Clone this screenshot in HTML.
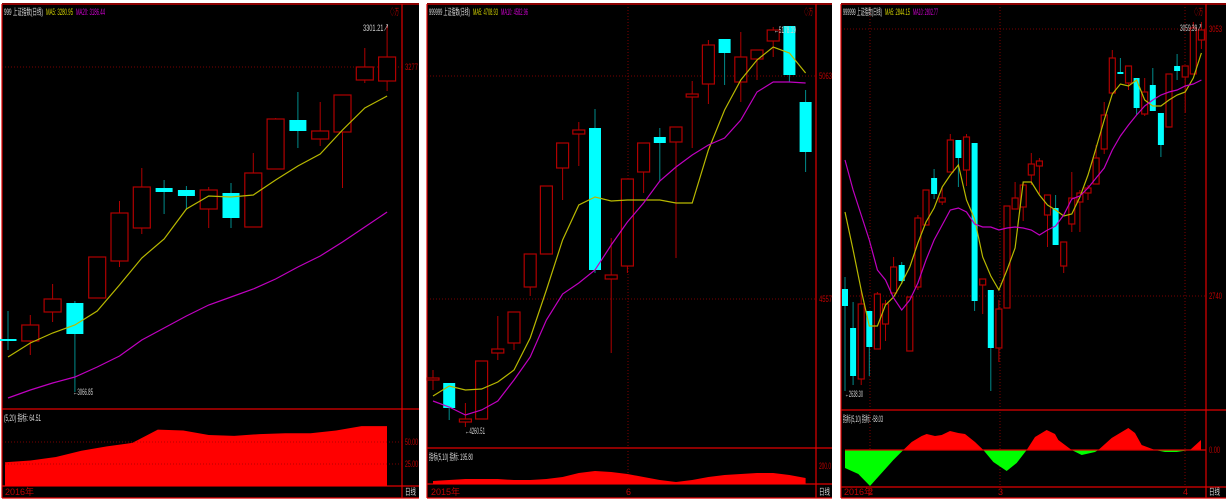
<!DOCTYPE html>
<html><head><meta charset="utf-8">
<style>
html,body{margin:0;padding:0;background:#fff;width:1226px;height:504px;overflow:hidden}
svg{display:block}
text{font-family:"Liberation Sans","Noto Sans CJK SC",sans-serif;font-size:9px}
</style></head>
<body>
<svg id="chart" width="1226" height="504" viewBox="0 0 1226 504"></svg>
<script>
// ===== Panel 1 data (price index units) =====
const p1Open  = [661,659,688,697,702,739,772,812,810,791,807,773,831,880,861,868,920,919];
const p1Close = [660,675,701,666,743,787,813,808,804,810,782,827,881,869,869,905,933,943];
const p1High  = [689,685,716,699,743,799,832,820,814,813,817,847,882,908,898,905,952,975];
const p1Low   = [650,645,678,608,702,733,766,786,790,772,772,773,831,852,854,812,917,909];
const p1MA5   = [643,657,667,675,689,715,742,761,791,804,803,805,820,834,846,870,892,904];
const p1MA20  = [602,610,617,623,633,644,660,672,684,695,703,711,721,733,744,758,773,788];
const p1Ind   = [27,29,33,40,45,49,64,63,58,57,59,60,60,63,68,68];
// ===== Panel 2 data =====
const p2Open  = [620,617,578,581,647,657,713,746,832,866,872,721,734,828,863,858,903,916,961,918,941,959,974,898];
const p2Close = [622,592,581,639,651,688,746,814,857,870,730,725,821,857,857,873,906,955,947,943,950,970,925,848];
const p2High  = [630,617,597,639,684,688,746,814,857,878,891,762,821,857,872,873,919,960,961,968,950,973,974,910];
const p2Low   = [610,580,573,581,640,650,704,746,800,834,727,647,727,807,819,742,852,896,915,898,920,943,918,828];
const p2MA5   = [604,614,610,611,618,630,662,710,760,795,803,799,800,800,800,797,797,850,890,920,940,953,947,927];
const p2MA10  = [599,593,585,590,599,620,643,680,706,717,730,755,778,797,819,833,845,855,862,880,908,918,918,917];
const p2Ind   = [3,4,5,5,5,4,4,5,7,11,13,12,10,7,4,2,4,7,9,10,11,11,9,6];
// ===== Panel 3 data =====
const p3Open  = [711,672,621,689,651,676,707,735,649,713,775,822,798,828,860,830,857,715,710,652,692,791,793,825,834,785,792,734,776,798,807,816,851,907,928,917,922,886,915,887,873,934,923,926,960];
const p3Close = [694,624,696,653,706,696,733,719,703,782,810,806,802,860,842,863,699,721,652,691,794,802,815,836,839,805,755,758,802,807,812,842,885,942,926,934,892,908,889,855,926,929,934,972,970];
const p3High  = [723,698,710,689,708,700,743,738,703,785,810,831,813,866,860,866,857,721,710,700,794,818,818,847,842,805,805,758,828,810,815,855,898,950,942,934,922,922,932,887,926,946,934,978,978];
const p3Low   = [609,615,615,624,651,659,707,716,649,710,775,801,795,828,813,814,689,686,609,638,692,791,779,815,806,753,755,727,768,768,800,816,846,905,926,910,885,884,889,843,873,920,887,926,951];
const p3MA5   = [788,750,710,674,674,695,703,717,733,757,778,792,813,825,835,800,781,743,724,710,730,752,818,818,805,795,790,784,786,803,825,852,880,906,916,914,920,900,894,894,900,905,908,922,947];
const p3MA10  = [840,810,785,760,730,720,702,690,700,717,740,760,775,790,792,788,776,773,773,770,772,773,772,770,765,770,774,785,801,804,812,822,832,850,864,875,885,894,900,905,908,910,914,916,920];
const p3Ind   = [-18,-24,-36,-23,-10,0,8,14,16,14,15,19,17,16,8,0,-12,-21,-13,0,13,20,16,10,0,-5,-2,0,12,22,17,5,0,-2,-2,0,10];
const p3IndX  = [30,70,105,140,175,205,230,260,275,300,320,345,370,390,420,445,475,515,545,575,600,635,660,670,710,740,780,790,830,880,900,920,960,990,1025,1065,1098];

const svg = document.getElementById('chart');
const NS = 'http://www.w3.org/2000/svg';
function mk(tag, attrs, parent){
  const e = document.createElementNS(NS, tag);
  for (const k in attrs) e.setAttribute(k, attrs[k]);
  (parent||svg).appendChild(e);
  return e;
}
const RED='#e00000', DRED='#b00000', CYAN='#00ffff';

function panel(cfg){
  const g = mk('g', {});
  
  
  const bg = mk('rect', {x:cfg.x0, y:3, width:cfg.x1-cfg.x0, height:495, fill:'#000'}, g);
  
  
  const lines = [[cfg.x0,4,cfg.x1,4],[cfg.x0,cfg.sep,cfg.x1,cfg.sep],[cfg.x0,cfg.indBottom,cfg.x1,cfg.indBottom],[cfg.axisX,4,cfg.axisX,498],[cfg.x0,4,cfg.x0,498],[cfg.x0,498,cfg.x1,498]];
  lines.forEach(l=>{
    const ln = mk('line',{x1:l[0],y1:l[1],x2:l[2],y2:l[3],stroke:RED,'stroke-width':1.2},g);
    
    
  });
  (cfg.hgrid||[]).forEach(h=>{
    const ln = mk('line',{x1:cfg.x0,y1:cfg.y(h.v),x2:cfg.axisX,y2:cfg.y(h.v),stroke:'#a00000','stroke-width':0.8,'stroke-dasharray':'1,2'},g);
    
    
    const t = mk('text',{x:cfg.axisX+3,y:cfg.y(h.v)+3,fill:'#c00000','font-size':8,textLength:13,lengthAdjust:'spacingAndGlyphs'},g);
    t.textContent = h.label;
    
    
  });
  (cfg.vgrid||[]).forEach(vx=>{
    const ln = mk('line',{x1:vx,y1:4,x2:vx,y2:cfg.indBottom,stroke:'#a00000','stroke-width':0.8,'stroke-dasharray':'1,2'},g);
    
    
  });
  const n = cfg.open.length;
  for (let i=0;i<n;i++){
    const cx = cfg.cx(i);
    const up = cfg.close[i] >= cfg.open[i];
    const col = up ? DRED : CYAN;
    const wk = mk('line',{x1:cx,y1:cfg.y(cfg.high[i]),x2:cx,y2:cfg.y(cfg.low[i]),stroke:up?DRED:'#008b8b','stroke-width':1},g);
    
    
    const top = cfg.y(Math.max(cfg.open[i],cfg.close[i]));
    const bot = cfg.y(Math.min(cfg.open[i],cfg.close[i]));
    const b = mk('rect',{x:cx-cfg.w/2,y:top,width:cfg.w,height:Math.max(bot-top,2),fill:up?'#000':CYAN,stroke:col,'stroke-width':up?1.2:0},g);
    
    
  }
  cfg.mas.forEach(m=>{
    const pts = m.data.map((v,i)=>cfg.cx(i)+','+cfg.y(v)).join(' ');
    const pl = mk('polyline',{points:pts,fill:'none',stroke:m.color,'stroke-width':1.2},g);
    
    
  });
  let hx = cfg.x0+2;
  cfg.header.forEach(h=>{
    const t = mk('text',{x:hx,y:15,fill:h.c,'font-size':8,textLength:h.w-3,lengthAdjust:'spacingAndGlyphs'},g);
    t.textContent = h.t;
    
    
    hx += h.w;
  });
  const ah = mk('text',{x:cfg.axisX-12,y:15,fill:'#c00000','font-size':8,textLength:9,lengthAdjust:'spacingAndGlyphs'},g);
  ah.textContent='◇万';
  
  
  const ih = mk('text',{x:cfg.x0+2,y:cfg.sep+12,fill:'#ddd','font-size':8,textLength:cfg.indLen,lengthAdjust:'spacingAndGlyphs'},g);
  ih.textContent = cfg.indLabel;
  
  
  cfg.dateLabels.forEach(d=>{
    const t = mk('text',{x:d.x,y:495,fill:'#c00000','font-size':8},g);
    t.textContent = d.t;
    
    
  });
  const dl = mk('text',{x:cfg.axisX+3,y:495,fill:'#ddd','font-size':8,textLength:11,lengthAdjust:'spacingAndGlyphs'},g);
  dl.textContent='日线';
  
  
  return g;
}

// Panel 1
const y1 = v => 1000 - v;
const cx1 = i => 8 + i*22.3;
const g1 = panel({name:'chart-panel-1',x0:2,x1:419,axisX:402,sep:409,indBottom:486,y:y1,cx:cx1,w:17,
  open:p1Open,close:p1Close,high:p1High,low:p1Low,
  mas:[{data:p1MA5,color:'#b8b800',name:'ma5-line'},{data:p1MA20,color:'#c000c0',name:'ma20-line'}],
  hgrid:[{v:933,label:'3277'}],
  header:[{t:'999 上证指数(日线)',c:'#ddd',w:42},{t:'MA5: 3280.95',c:'#d0d000',w:30},{t:'MA20: 3186.44',c:'#d000d0',w:32}],
  indLabel:'(5,20) 指标: 64.51',indLen:37,dateLabels:[{x:5,t:'2016年'}]});
{
  const ix = i => 5 + i*(382/(p1Ind.length-1));
  const iy = v => 486 - v*0.88;
  let d = 'M'+ix(0)+',486 ';
  p1Ind.forEach((v,i)=>{ d += 'L'+ix(i)+','+iy(v)+' '; });
  d += 'L'+ix(p1Ind.length-1)+',486 Z';
  const a = mk('path',{d:d,fill:'#ff0000'},g1);
  
  
  [[50,'50.00'],[25,'25.00']].forEach(t=>{
    const l = mk('line',{x1:2,y1:iy(t[0]),x2:402,y2:iy(t[0]),stroke:'#a00000','stroke-width':0.8,'stroke-dasharray':'1,2'},g1);
    
    
    const tx = mk('text',{x:405,y:iy(t[0])+3,fill:'#c00000','font-size':8,textLength:13,lengthAdjust:'spacingAndGlyphs'},g1);
    tx.textContent=t[1];
    
    
  });
  const hi = mk('text',{x:363,y:31,fill:'#ccc','font-size':8,textLength:26,lengthAdjust:'spacingAndGlyphs'},g1); hi.textContent='3301.21↗';
   
  const lo = mk('text',{x:73,y:395,fill:'#ccc','font-size':8,textLength:20,lengthAdjust:'spacingAndGlyphs'},g1); lo.textContent='←3066.85';
   
}

// Panel 2
const y2 = v => 1000 - v;
const cx2 = i => 433 + i*16.2;
const g2 = panel({name:'chart-panel-2',x0:427,x1:832,axisX:816,sep:448,indBottom:484,y:y2,cx:cx2,w:12,
  open:p2Open,close:p2Close,high:p2High,low:p2Low,
  mas:[{data:p2MA5,color:'#b8b800',name:'ma5-line'},{data:p2MA10,color:'#c000c0',name:'ma10-line'}],
  hgrid:[{v:924,label:'5063'},{v:701,label:'4557'}],vgrid:[628],
  header:[{t:'999999 上证指数(日线)',c:'#ddd',w:44},{t:'MA5: 4708.93',c:'#d0d000',w:28},{t:'MA10: 4582.96',c:'#d000d0',w:30}],
  indLabel:'指标(5,10) 指标: 195.80',indLen:44,dateLabels:[{x:431,t:'2015年'},{x:626,t:'6'}]});
{
  const ix = i => 433 + i*16.2;
  const iy = v => 484 - v;
  let d = 'M'+ix(0)+',484 ';
  p2Ind.forEach((v,i)=>{ d += 'L'+ix(i)+','+iy(v)+' '; });
  d += 'L'+ix(p2Ind.length-1)+',484 Z';
  const a = mk('path',{d:d,fill:'#ff0000'},g2);
  
  
  const tx = mk('text',{x:819,y:469,fill:'#c00000','font-size':8,textLength:12,lengthAdjust:'spacingAndGlyphs'},g2); tx.textContent='200.0';
   
  const hi = mk('text',{x:774,y:33,fill:'#ccc','font-size':8,textLength:22,lengthAdjust:'spacingAndGlyphs'},g2); hi.textContent='←5178.19';
   
  const lo = mk('text',{x:465,y:434,fill:'#ccc','font-size':8,textLength:20,lengthAdjust:'spacingAndGlyphs'},g2); lo.textContent='←4260.51';
   
}

// Panel 3
const y3 = v => 1000 - v;
const cx3 = i => 845 + i*8.1;
const g3 = panel({name:'chart-panel-3',x0:841,x1:1226,axisX:1206,sep:410,indBottom:487,y:y3,cx:cx3,w:6,
  open:p3Open,close:p3Close,high:p3High,low:p3Low,
  mas:[{data:p3MA5,color:'#b8b800',name:'ma5-line'},{data:p3MA10,color:'#c000c0',name:'ma10-line'}],
  hgrid:[{v:971,label:'3053'},{v:704,label:'2740'}],vgrid:[870,1000,1185],
  header:[{t:'999999 上证指数(日线)',c:'#ddd',w:42},{t:'MA5: 2844.15',c:'#d0d000',w:28},{t:'MA10: 2802.77',c:'#d000d0',w:28}],
  indLabel:'指标(5,10) 指标: -58.03',indLen:40,dateLabels:[{x:844,t:'2016年'},{x:868,t:'2'},{x:998,t:'3'},{x:1183,t:'4'}]});
{
  const ix = i => 835 + p3IndX[i]/3;
  const iy = v => 450 - v;
  const n = p3Ind.length;
  let d = 'M'+ix(0)+',450 ';
  p3Ind.forEach((v,i)=>{ d += 'L'+ix(i)+','+iy(v)+' '; });
  d += 'L'+ix(n-1)+',450 Z';
  const defs = mk('defs',{},g3);
  const c1 = mk('clipPath',{id:'posClip'},defs); mk('rect',{x:841,y:410,width:370,height:40},c1);
  const c2 = mk('clipPath',{id:'negClip'},defs); mk('rect',{x:841,y:450,width:370,height:37},c2);
  const pa = mk('path',{d:d,fill:'#ff0000','clip-path':'url(#posClip)'},g3);
  
  
  const na = mk('path',{d:d,fill:'#00ff00','clip-path':'url(#negClip)'},g3);
  
  
  const zl = mk('line',{x1:845,y1:450,x2:1206,y2:450,stroke:'#e00000','stroke-width':1.2},g3);
   
  const tx = mk('text',{x:1209,y:453,fill:'#c00000','font-size':8,textLength:11,lengthAdjust:'spacingAndGlyphs'},g3); tx.textContent='0.00';
   
  const hi = mk('text',{x:1180,y:31,fill:'#ccc','font-size':7,textLength:22,lengthAdjust:'spacingAndGlyphs'},g3); hi.textContent='3059.39↗';
   
  const lo = mk('text',{x:845,y:397,fill:'#ccc','font-size':7,textLength:18,lengthAdjust:'spacingAndGlyphs'},g3); lo.textContent='←2638.30';
   
}
</script>
</body></html>
